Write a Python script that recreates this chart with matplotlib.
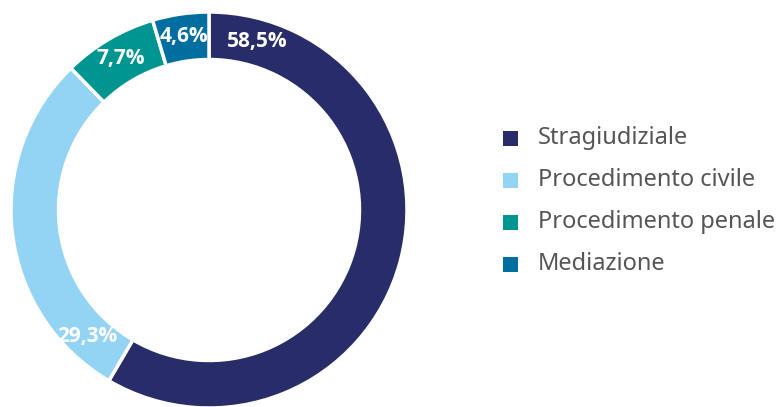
import matplotlib
matplotlib.use("Agg")
import matplotlib.pyplot as plt
from matplotlib.patches import Rectangle
import numpy as np

categories = ["Stragiudiziale", "Procedimento civile", "Procedimento penale", "Mediazione"]
values = [58.5, 29.3, 7.7, 4.6]
labels = ["58,5%", "29,3%", "7,7%", "4,6%"]
colors = ["#282D6A", "#93D3F4", "#009590", "#006E9E"]
# angular position of each label inside its wedge (fraction of the wedge from its start)
label_frac = [0.076, 0.127, 0.5, 0.5]

W, H = 779, 407
fig = plt.figure(figsize=(W / 100, H / 100), dpi=100)
cx, cy, R = 209, 407 - 210, 198
ax = fig.add_axes([(cx - R) / W, (cy - R) / H, 2 * R / W, 2 * R / H])

wedges, _ = ax.pie(values, colors=colors, startangle=90, counterclock=False,
                   radius=1.0, wedgeprops=dict(width=0.24, edgecolor="white", linewidth=2.5))
ax.set_xlim(-1, 1)
ax.set_ylim(-1, 1)
ax.set_aspect("equal")
ax.axis("off")

total = sum(values)
start = 90.0
for v, lab, f in zip(values, labels, label_frac):
    span = 360.0 * v / total
    ang = np.deg2rad(start - span * f)
    r = 0.885
    ax.text(r * np.cos(ang), r * np.sin(ang), lab, ha="center", va="center",
            color="white", fontsize=15, fontweight="bold", family=["Open Sans", "DejaVu Sans"])
    start -= span

# legend
y0, dy = 138, 42
for i, (cat, c) in enumerate(zip(categories, colors)):
    yc = y0 + i * dy
    fig.add_artist(Rectangle(((503) / W, (H - yc - 7.5) / H), 15 / W, 15 / H,
                             transform=fig.transFigure, facecolor=c, edgecolor="none"))
    fig.text(538 / W, (H - yc) / H, cat, ha="left", va="center", fontsize=17,
             color="#555555", family="Noto Sans")

fig.savefig("out.png", dpi=100)
